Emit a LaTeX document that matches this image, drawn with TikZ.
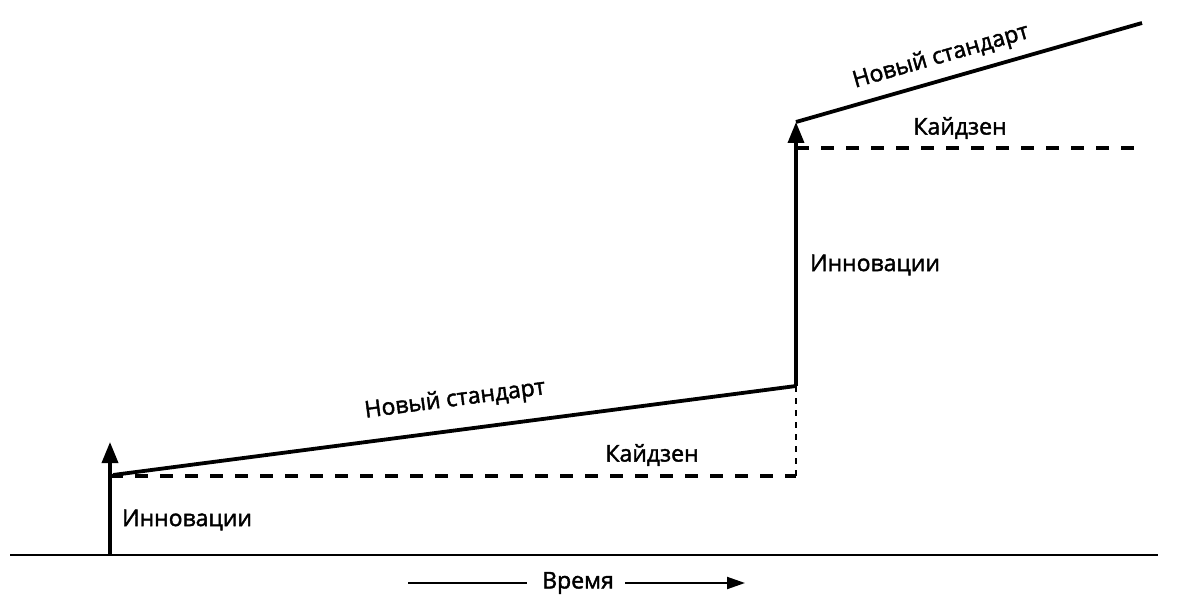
\documentclass[tikz,border=0pt]{standalone}
\usepackage{fontspec}
\setmainfont{Open Sans}
\newfontfamily\lblfont[FakeBold=1.8]{Open Sans}
\usetikzlibrary{arrows.meta}
\begin{document}
\begin{tikzpicture}[x=1pt,y=1pt,
  lbl/.style={font=\lblfont\fontsize{23}{26}\selectfont, inner sep=0pt},
  solidline/.style={line width=3.8pt},
  kaizenline/.style={line width=3.4pt, dash pattern=on 13pt off 12pt},
  dotline/.style={line width=2.6pt, dash pattern=on 6pt off 6pt},
  innov/.style={line width=3.6pt, -{Triangle[length=21pt,width=16pt]}},
  timearrow/.style={line width=2pt, -{Triangle[length=18pt,width=12pt]}}]
\useasboundingbox (0,0) rectangle (1199,603);
% coordinates
\coordinate (b0) at (10,48);
\coordinate (b1) at (1158,48);
\coordinate (a0) at (110,48);
\coordinate (a1) at (110,161);
\coordinate (k1s) at (110,127);
\coordinate (k1e) at (796,127);
\coordinate (n1s) at (113,128);
\coordinate (n1e) at (796,217);
\coordinate (a2) at (796,481);
\coordinate (k2s) at (796,455);
\coordinate (k2e) at (1142,455);
\coordinate (n2e) at (1142,580);
\coordinate (t0) at (408,20);
\coordinate (t1) at (527,20);
\coordinate (t2) at (625,20);
\coordinate (t3) at (745,20);
% lines
\draw[line width=2.2pt] (b0) -- (b1);
\draw[innov] (a0) -- (a1);
\draw[kaizenline] (k1s) -- (k1e);
\draw[solidline] (n1s) -- (n1e);
\draw[dotline] (n1e) -- (k1e);
\draw[innov] (n1e) -- (a2);
\draw[kaizenline] (k2s) -- (k2e);
\draw[solidline] (a2) -- (n2e);
\draw[line width=2pt] (t0) -- (t1);
\draw[timearrow] (t2) -- (t3);
% labels
\node[lbl] (inn1) at (187,83) {Инновации};
\node[lbl, rotate=7.5] (ns1) at (455,203) {Новый стандарт};
\node[lbl] (kz1) at (652,148) {Кайдзен};
\node[lbl] (inn2) at (875,338) {Инновации};
\node[lbl, rotate=16] (ns2) at (941,546) {Новый стандарт};
\node[lbl] (kz2) at (960,475) {Кайдзен};
\node[lbl] (time) at (578,20) {Время};
\end{tikzpicture}
\end{document}
